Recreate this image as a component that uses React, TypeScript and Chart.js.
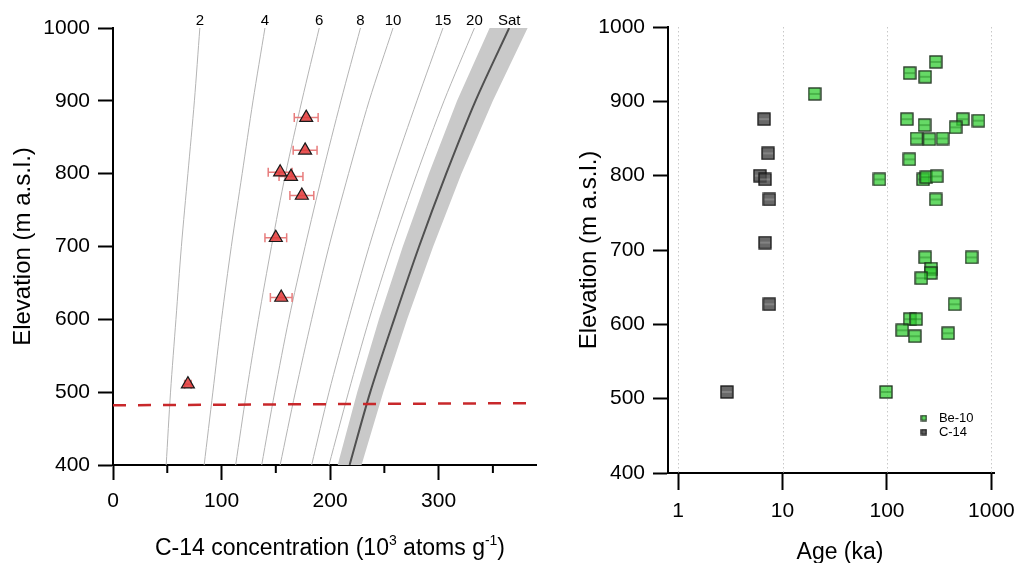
import React, { useEffect, useRef } from 'react';
import { Chart, registerables } from 'chart.js';

Chart.register(...registerables);

// ---------------- Left panel: C-14 concentration vs elevation ----------------
const ELEVATIONS = [400, 500, 600, 700, 800, 900, 1000];
const CURVE_2 = [49, 53, 58, 63, 69, 75, 80];
const CURVE_4 = [84, 92, 100, 109, 119, 129, 140];
const CURVE_6 = [113, 123, 134, 146, 159, 174, 190];
const CURVE_8 = [137, 149, 162, 177, 193, 210, 228];
const CURVE_10 = [154, 168, 183, 199, 217, 236, 258];
const CURVE_15 = [183, 199, 217, 236, 257, 280, 304];
const CURVE_20 = [199, 217, 236, 257, 280, 305, 333];
const CURVE_LABELS = ['2', '4', '6', '8', '10', '15', '20'];
const SAT_LABEL = 'Sat';
const SAT_CURVE = [218, 237, 259, 282, 307, 334, 365];
const SAT_LOW = [207, 225, 245, 267, 291, 317, 347];
const SAT_HIGH = [229, 249, 271, 295, 321, 350, 382];

const SAMPLE_C14 = [178, 177, 154, 164, 174, 150, 155, 69];
const SAMPLE_C14_ERR = [11, 11, 11, 11, 11, 10, 10, 3];
const SAMPLE_ELEV = [877, 832, 802, 796, 770, 712, 630, 511];

const THRESHOLD_X = [0, 390];
const THRESHOLD_ELEV = [482, 485];

const X_MAJOR_TICKS = [0, 100, 200, 300];
const X_MINOR_TICKS = [50, 150, 250, 350];
const ELEV_TICKS = [400, 500, 600, 700, 800, 900, 1000];

// ---------------- Right panel: Age vs elevation ----------------
const BE10_AGE = [293, 165, 232, 20.3, 155, 229, 532, 752, 454, 192, 255, 341, 164, 84.7, 222, 238, 299, 293, 232, 646, 265, 262, 213, 444, 165, 190, 140, 185, 385, 98];
const BE10_ELEV = [953, 938, 933, 910, 876, 868, 876, 874, 865, 850, 849, 850, 822, 795, 795, 798, 799, 768, 690, 690, 675, 669, 662, 627, 607, 607, 592, 584, 588, 509];
const C14_AGE = [6.66, 7.26, 6.06, 6.8, 7.47, 6.8, 7.47, 2.93];
const C14_ELEV = [876, 830, 800, 795, 768, 710, 627, 509];
const AGE_TICKS = [1, 10, 100, 1000];

const FONT = "'Liberation Sans', Arial, Helvetica, sans-serif";

function pts(xs: number[], ys: number[]) {
  return xs.map((x, i) => ({ x, y: ys[i] }));
}

function makeSquare(size: number, fill: string, stroke: string, mid: string) {
  const c = document.createElement('canvas');
  c.width = size;
  c.height = size;
  const g = c.getContext('2d')!;
  g.fillStyle = fill;
  g.fillRect(1, 1, size - 2, size - 2);
  if (mid) {
    g.strokeStyle = mid;
    g.lineWidth = 1;
    g.beginPath();
    g.moveTo(2, size / 2);
    g.lineTo(size - 2, size / 2);
    g.stroke();
  }
  g.strokeStyle = stroke;
  g.lineWidth = 1.3;
  g.strokeRect(1, 1, size - 2, size - 2);
  return c;
}

function leftConfig(): any {
  const curves = [CURVE_2, CURVE_4, CURVE_6, CURVE_8, CURVE_10, CURVE_15, CURVE_20];
  const bandPts = pts(SAT_LOW, ELEVATIONS).concat(pts(SAT_HIGH, ELEVATIONS).reverse());
  const datasets: any[] = [
    {
      id: 'band',
      data: bandPts,
      borderWidth: 0,
      pointRadius: 0,
      backgroundColor: '#c9c9c9',
      fill: 'shape',
      tension: 0,
      order: 5,
    },
    ...curves.map((c, i) => ({
      id: 'curve',
      topLabel: CURVE_LABELS[i],
      data: pts(c, ELEVATIONS),
      borderColor: '#b4b4b4',
      borderWidth: 1,
      pointRadius: 0,
      tension: 0.3,
      fill: false,
      order: 4,
    })),
    {
      id: 'curve',
      topLabel: SAT_LABEL,
      data: pts(SAT_CURVE, ELEVATIONS),
      borderColor: '#505050',
      borderWidth: 2,
      pointRadius: 0,
      tension: 0.3,
      fill: false,
      order: 3,
    },
    {
      id: 'threshold',
      data: pts(THRESHOLD_X, THRESHOLD_ELEV),
      borderColor: '#c8282b',
      borderWidth: 2.5,
      borderDash: [13, 12],
      pointRadius: 0,
      fill: false,
      order: 2,
    },
    {
      id: 'samples',
      data: pts(SAMPLE_C14, SAMPLE_ELEV),
      showLine: false,
      pointStyle: 'triangle',
      pointRadius: 7.5,
      pointBackgroundColor: 'rgba(226,62,62,0.88)',
      pointBorderColor: '#1a1a1a',
      pointBorderWidth: 1.2,
      order: 0,
    },
  ];

  const plugin = {
    id: 'leftExtras',
    beforeDatasetDraw(chart: any, args: any) {
      const ds = chart.data.datasets[args.index];
      if (ds.id !== 'samples') return;
      const { ctx } = chart;
      const xs = chart.scales.x;
      const ys = chart.scales.y;
      ctx.save();
      ctx.strokeStyle = 'rgba(228,110,110,0.9)';
      ctx.lineWidth = 1.5;
      SAMPLE_C14.forEach((v, i) => {
        const y = ys.getPixelForValue(SAMPLE_ELEV[i]);
        const x1 = xs.getPixelForValue(v - SAMPLE_C14_ERR[i]);
        const x2 = xs.getPixelForValue(v + SAMPLE_C14_ERR[i]);
        ctx.beginPath();
        ctx.moveTo(x1, y);
        ctx.lineTo(x2, y);
        ctx.moveTo(x1, y - 4.5);
        ctx.lineTo(x1, y + 4.5);
        ctx.moveTo(x2, y - 4.5);
        ctx.lineTo(x2, y + 4.5);
        ctx.stroke();
      });
      ctx.restore();
    },
    afterDraw(chart: any) {
      const { ctx, chartArea } = chart;
      const xs = chart.scales.x;
      const ys = chart.scales.y;
      ctx.save();
      // curve labels
      ctx.fillStyle = '#000';
      ctx.font = `15px ${FONT}`;
      ctx.textAlign = 'center';
      ctx.textBaseline = 'alphabetic';
      chart.data.datasets.forEach((ds: any) => {
        if (ds.id !== 'curve') return;
        const last = ds.data[ds.data.length - 1];
        ctx.fillText(ds.topLabel, xs.getPixelForValue(last.x), chartArea.top - 3);
      });
      // minor ticks
      ctx.strokeStyle = '#000';
      ctx.lineWidth = 2;
      X_MINOR_TICKS.forEach((v) => {
        const x = xs.getPixelForValue(v);
        ctx.beginPath();
        ctx.moveTo(x, chartArea.bottom);
        ctx.lineTo(x, chartArea.bottom + 8);
        ctx.stroke();
      });
      // y title
      ctx.font = `24px ${FONT}`;
      ctx.textBaseline = 'middle';
      ctx.save();
      ctx.translate(23, (ys.top + ys.bottom) / 2);
      ctx.rotate(-Math.PI / 2);
      ctx.fillText('Elevation (m a.s.l.)', 0, 0);
      ctx.restore();
      // x title with superscripts
      const parts = [
        { t: 'C-14 concentration (10', s: false },
        { t: '3', s: true },
        { t: ' atoms g', s: false },
        { t: '-1', s: true },
        { t: ')', s: false },
      ];
      const big = `23px ${FONT}`;
      const small = `14px ${FONT}`;
      let total = 0;
      parts.forEach((p) => {
        ctx.font = p.s ? small : big;
        total += ctx.measureText(p.t).width;
      });
      let x = 330 - total / 2;
      const base = 555;
      ctx.textAlign = 'left';
      ctx.textBaseline = 'alphabetic';
      parts.forEach((p) => {
        ctx.font = p.s ? small : big;
        ctx.fillText(p.t, x, p.s ? base - 10 : base);
        x += ctx.measureText(p.t).width;
      });
      ctx.restore();
    },
  };

  return {
    type: 'line',
    data: { datasets },
    plugins: [plugin],
    options: {
      animation: false,
      responsive: false,
      maintainAspectRatio: false,
      events: [],
      layout: { padding: { top: 28, right: 7, left: 0, bottom: 0 } },
      plugins: { legend: { display: false }, tooltip: { enabled: false } },
      scales: {
        x: {
          type: 'linear',
          min: 0,
          max: 390,
          afterBuildTicks: (s: any) => {
            s.ticks = X_MAJOR_TICKS.map((v) => ({ value: v }));
          },
          afterFit: (s: any) => {
            s.height = 98;
          },
          grid: { drawOnChartArea: false, drawTicks: true, tickLength: 15, tickWidth: 2, tickColor: '#000' },
          border: { display: true, color: '#000', width: 2 },
          ticks: { color: '#000', font: { family: FONT, size: 21 }, padding: 9, maxRotation: 0, autoSkip: false, callback: (v: any) => String(v) },
        },
        y: {
          type: 'linear',
          min: 400,
          max: 1000,
          afterBuildTicks: (s: any) => {
            s.ticks = ELEV_TICKS.map((v) => ({ value: v }));
          },
          afterFit: (s: any) => {
            s.width = 113;
          },
          grid: { drawOnChartArea: false, drawTicks: true, tickLength: 15, tickWidth: 2, tickColor: '#000' },
          border: { display: true, color: '#000', width: 2 },
          ticks: { color: '#000', font: { family: FONT, size: 21 }, padding: 8, autoSkip: false, callback: (v: any) => String(v) },
        },
      },
    },
  };
}

function rightConfig(): any {
  const greenSq = makeSquare(14, 'rgba(51,204,51,0.75)', '#1e2e1e', 'rgba(20,110,20,0.7)');
  const graySq = makeSquare(14, 'rgba(72,72,72,0.82)', '#151515', 'rgba(170,170,170,0.8)');
  const greenLeg = makeSquare(7, 'rgba(51,204,51,0.8)', '#1e2e1e', '');
  const grayLeg = makeSquare(7, 'rgba(72,72,72,0.85)', '#151515', '');

  const datasets: any[] = [
    {
      label: 'Be-10',
      data: pts(BE10_AGE, BE10_ELEV),
      showLine: false,
      pointStyle: greenSq,
      pointRadius: 7,
      legendImg: greenLeg,
      order: 1,
    },
    {
      label: 'C-14',
      data: pts(C14_AGE, C14_ELEV),
      showLine: false,
      pointStyle: graySq,
      pointRadius: 7,
      legendImg: grayLeg,
      order: 0,
    },
  ];

  const plugin = {
    id: 'rightExtras',
    beforeDatasetsDraw(chart: any) {
      const { ctx, chartArea } = chart;
      const xs = chart.scales.x;
      ctx.save();
      ctx.strokeStyle = '#c8c8c8';
      ctx.lineWidth = 1;
      ctx.setLineDash([1.5, 2.5]);
      AGE_TICKS.forEach((v) => {
        const x = Math.round(xs.getPixelForValue(v)) + 0.5;
        ctx.beginPath();
        ctx.moveTo(x, chartArea.top);
        ctx.lineTo(x, chartArea.bottom);
        ctx.stroke();
      });
      ctx.restore();
    },
    afterDraw(chart: any) {
      const { ctx, chartArea } = chart;
      const ys = chart.scales.y;
      ctx.save();
      ctx.fillStyle = '#000';
      // legend
      ctx.font = `13px ${FONT}`;
      ctx.textAlign = 'left';
      ctx.textBaseline = 'middle';
      chart.data.datasets.forEach((ds: any, i: number) => {
        const y = chartArea.bottom - 55 + i * 14;
        const img = ds.legendImg;
        ctx.drawImage(img, chartArea.right - 71 - img.width / 2, y - img.height / 2);
        ctx.fillText(ds.label, chartArea.right - 56, y);
      });
      // y title
      ctx.font = `24px ${FONT}`;
      ctx.textAlign = 'center';
      ctx.save();
      ctx.translate(44, (ys.top + ys.bottom) / 2);
      ctx.rotate(-Math.PI / 2);
      ctx.fillText('Elevation (m a.s.l.)', 0, 0);
      ctx.restore();
      // x title
      ctx.font = `23px ${FONT}`;
      ctx.textBaseline = 'alphabetic';
      ctx.fillText('Age (ka)', 295, 559);
      ctx.restore();
    },
  };

  return {
    type: 'line',
    data: { datasets },
    plugins: [plugin],
    options: {
      animation: false,
      responsive: false,
      maintainAspectRatio: false,
      events: [],
      layout: { padding: { top: 27, right: 23, left: 0, bottom: 0 } },
      plugins: { legend: { display: false }, tooltip: { enabled: false } },
      scales: {
        x: {
          type: 'logarithmic',
          min: 0.8,
          max: 1080,
          afterBuildTicks: (s: any) => {
            s.ticks = AGE_TICKS.map((v) => ({ value: v }));
          },
          afterFit: (s: any) => {
            s.height = 90;
          },
          grid: { drawOnChartArea: false, drawTicks: true, tickLength: 17, tickWidth: 2, tickColor: '#000' },
          border: { display: true, color: '#000', width: 2 },
          ticks: { color: '#000', font: { family: FONT, size: 21 }, padding: 9, maxRotation: 0, autoSkip: false, callback: (v: any) => String(v) },
        },
        y: {
          type: 'linear',
          min: 400,
          max: 1000,
          afterBuildTicks: (s: any) => {
            s.ticks = ELEV_TICKS.map((v) => ({ value: v }));
          },
          afterFit: (s: any) => {
            s.width = 123;
          },
          grid: { drawOnChartArea: false, drawTicks: true, tickLength: 15, tickWidth: 2, tickColor: '#000' },
          border: { display: true, color: '#000', width: 2 },
          ticks: { color: '#000', font: { family: FONT, size: 21 }, padding: 8, autoSkip: false, callback: (v: any) => String(v) },
        },
      },
    },
  };
}

export default function App() {
  const leftRef = useRef<HTMLCanvasElement>(null);
  const rightRef = useRef<HTMLCanvasElement>(null);

  useEffect(() => {
    const left = new Chart(leftRef.current!, leftConfig());
    const right = new Chart(rightRef.current!, rightConfig());
    return () => {
      left.destroy();
      right.destroy();
    };
  }, []);

  return (
    <div style={{ position: 'absolute', left: 0, top: 0, width: 1024, height: 563, background: '#fff', overflow: 'hidden' }}>
      <canvas ref={leftRef} width={545} height={563} style={{ position: 'absolute', left: 0, top: 0 }} />
      <canvas ref={rightRef} width={479} height={563} style={{ position: 'absolute', left: 545, top: 0 }} />
    </div>
  );
}
